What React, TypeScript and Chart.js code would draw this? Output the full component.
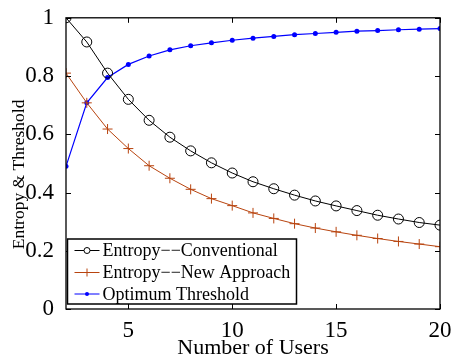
import React, { useEffect, useRef } from "react";
import { Chart, registerables } from "chart.js";

Chart.register(...registerables);

const users = [2, 3, 4, 5, 6, 7, 8, 9, 10, 11, 12, 13, 14, 15, 16, 17, 18, 19, 20];
const entropyConventional = [1.0, 0.917, 0.81, 0.72, 0.648, 0.59, 0.543, 0.502, 0.467, 0.437, 0.413, 0.391, 0.371, 0.354, 0.338, 0.322, 0.309, 0.297, 0.288];
const entropyNewApproach = [0.81, 0.708, 0.618, 0.551, 0.492, 0.449, 0.411, 0.379, 0.355, 0.33, 0.311, 0.293, 0.278, 0.265, 0.253, 0.242, 0.232, 0.223, 0.214];
const optimumThreshold = [0.49, 0.708, 0.795, 0.84, 0.869, 0.89, 0.904, 0.914, 0.923, 0.93, 0.936, 0.942, 0.946, 0.95, 0.954, 0.956, 0.959, 0.961, 0.963];

const seriesNames = ["Entropy\u2212\u2212Conventional", "Entropy\u2212\u2212New Approach", "Optimum Threshold"];
const xTickValues = [5, 10, 15, 20];
const yTickValues = [0, 0.2, 0.4, 0.6, 0.8, 1];
const yTickLabels = ["0", "0.2", "0.4", "0.6", "0.8", "1"];
const xTitle = "Number of Users";
const yTitle = "Entropy & Threshold";

const FONT = "'Liberation Serif', 'Times New Roman', serif";
const ORANGE = "#b8440f";
const BLUE = "#0000ff";

const framePlugin = {
  id: "frameAndLegend",
  afterDatasetsDraw(chart: any) {
    const { ctx, chartArea: ca, scales } = chart;
    const xs = scales.x;
    const ys = scales.y;
    ctx.save();
    ctx.strokeStyle = "#000";
    ctx.lineWidth = 1.3;
    ctx.strokeRect(ca.left, ca.top, ca.right - ca.left, ca.bottom - ca.top);
    const tl = 5;
    ctx.lineWidth = 1;
    ctx.beginPath();
    xTickValues.forEach((v) => {
      const px = Math.round(xs.getPixelForValue(v)) + 0.5;
      ctx.moveTo(px, ca.bottom);
      ctx.lineTo(px, ca.bottom - tl);
      ctx.moveTo(px, ca.top);
      ctx.lineTo(px, ca.top + tl);
    });
    yTickValues.forEach((v) => {
      const py = Math.round(ys.getPixelForValue(v)) + 0.5;
      ctx.moveTo(ca.left, py);
      ctx.lineTo(ca.left + tl, py);
      ctx.moveTo(ca.right, py);
      ctx.lineTo(ca.right - tl, py);
    });
    ctx.stroke();

    // y title
    ctx.save();
    ctx.translate(19, (ca.top + ca.bottom) / 2 + 11);
    ctx.rotate(-Math.PI / 2);
    ctx.font = "17.5px " + FONT;
    ctx.fillStyle = "#000";
    ctx.textAlign = "center";
    ctx.textBaseline = "middle";
    ctx.fillText(yTitle, 0, 0);
    ctx.restore();

    // legend box
    const bx = ca.left + 1.5;
    const by = ca.bottom - 70;
    const bw = 229;
    const bh = 65;
    ctx.fillStyle = "#fff";
    ctx.fillRect(bx, by, bw, bh);
    ctx.lineWidth = 1.5;
    ctx.strokeStyle = "#000";
    ctx.strokeRect(bx, by, bw, bh);
    const rows = [11.5, 33.5, 55];
    ctx.font = "18px " + FONT;
    ctx.textBaseline = "middle";
    chart.data.datasets.forEach((ds: any, i: number) => {
      const cy = by + rows[i];
      const x0 = bx + 7;
      const x1 = bx + 32;
      const mx = (x0 + x1) / 2;
      ctx.strokeStyle = ds.borderColor;
      ctx.lineWidth = 1;
      ctx.beginPath();
      ctx.moveTo(x0, cy);
      ctx.lineTo(x1, cy);
      ctx.stroke();
      if (i === 0) {
        ctx.beginPath();
        ctx.arc(mx, cy, 3, 0, Math.PI * 2);
        ctx.fillStyle = "#fff";
        ctx.fill();
        ctx.stroke();
      } else if (i === 1) {
        const r = 4;
        ctx.beginPath();
        ctx.moveTo(mx, cy - r);
        ctx.lineTo(mx, cy + r);
        ctx.stroke();
      } else {
        ctx.beginPath();
        ctx.arc(mx, cy, 2, 0, Math.PI * 2);
        ctx.fillStyle = ds.borderColor;
        ctx.fill();
      }
      ctx.fillStyle = "#000";
      ctx.textAlign = "left";
      ctx.fillText(ds.label, bx + 35, cy + 1);
    });
    ctx.restore();
  },
};

export default function App() {
  const ref = useRef<HTMLCanvasElement>(null);
  useEffect(() => {
    document.body.style.margin = "0";
    const toPts = (arr: number[]) => users.map((u, i) => ({ x: u, y: arr[i] }));
    const chart = new Chart(ref.current!, {
      type: "line",
      data: {
        datasets: [
          {
            label: seriesNames[0],
            data: toPts(entropyConventional),
            borderColor: "#000",
            backgroundColor: "rgba(0,0,0,0)",
            borderWidth: 1,
            pointStyle: "circle",
            pointRadius: 5,
            pointBorderWidth: 1,
            tension: 0,
          },
          {
            label: seriesNames[1],
            data: toPts(entropyNewApproach),
            borderColor: ORANGE,
            backgroundColor: ORANGE,
            borderWidth: 1,
            pointStyle: "cross",
            pointRadius: 5,
            pointBorderWidth: 1,
            tension: 0,
          },
          {
            label: seriesNames[2],
            data: toPts(optimumThreshold),
            borderColor: BLUE,
            backgroundColor: BLUE,
            borderWidth: 1.2,
            pointStyle: "circle",
            pointRadius: 2.5,
            pointBorderWidth: 0,
            tension: 0,
          },
        ],
      },
      options: {
        animation: false,
        responsive: false,
        devicePixelRatio: 1,
        layout: { padding: { top: 13, right: 13, left: 0, bottom: 0 } },
        plugins: { legend: { display: false }, tooltip: { enabled: false } },
        scales: {
          x: {
            type: "linear",
            min: 2,
            max: 20,
            grid: { display: false },
            border: { display: false },
            afterBuildTicks: (s: any) => {
              s.ticks = xTickValues.map((v) => ({ value: v }));
            },
            afterFit: (s: any) => {
              s.height = 50;
            },
            ticks: {
              color: "#000",
              font: { family: FONT, size: 23 },
              padding: 0,
              maxRotation: 0,
              callback: (v: any) => String(v),
            },
            title: {
              display: true,
              text: xTitle,
              color: "#000",
              font: { family: FONT, size: 22 },
              padding: { top: 0, bottom: -2 },
            },
          },
          y: {
            type: "linear",
            min: 0,
            max: 1,
            grid: { display: false },
            border: { display: false },
            afterBuildTicks: (s: any) => {
              s.ticks = yTickValues.map((v) => ({ value: v }));
            },
            afterFit: (s: any) => {
              s.width = 66;
            },
            ticks: {
              color: "#000",
              font: { family: FONT, size: 23 },
              padding: 4,
              callback: (v: any) => {
                const i = yTickValues.indexOf(v);
                return i >= 0 ? yTickLabels[i] : "";
              },
            },
            title: { display: false },
          },
        },
      },
      plugins: [framePlugin],
    });
    return () => chart.destroy();
  }, []);
  return (
    <div style={{ width: 453, height: 359 }}>
      <canvas ref={ref} width={453} height={359} style={{ display: "block" }} />
    </div>
  );
}
